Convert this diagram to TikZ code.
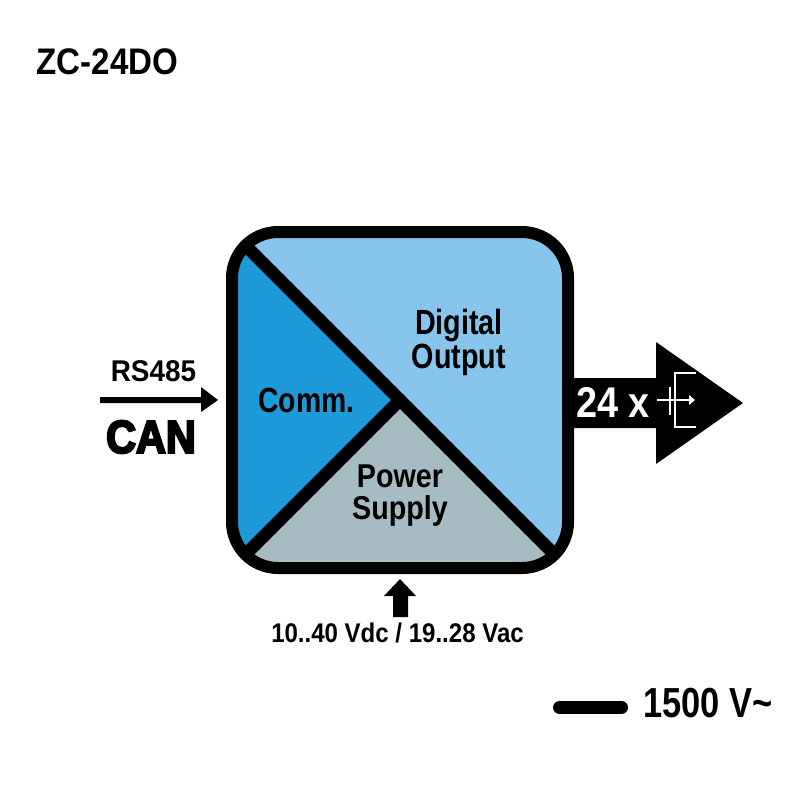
\documentclass[tikz,border=0pt]{standalone}
\usepackage{fontspec}
\setmainfont{Liberation Sans}
\newfontfamily\heavyfont[FakeBold=5]{Liberation Sans Bold}
\usetikzlibrary{calc}
\definecolor{lightb}{HTML}{88C5EC}
\definecolor{commb}{HTML}{1E9AD8}
\definecolor{psgrey}{HTML}{A7BBC2}
\newcommand{\narrow}[2]{\scalebox{#1}[1]{#2}}
\tikzset{
  lbl/.style={inner sep=0pt,font=\bfseries,align=center,text=black},
  sep/.style={draw=black,line width=12.5pt},
  solidarrow/.style={fill=black,draw=none},
}
\begin{document}
\begin{tikzpicture}[x=1pt,y=-1pt]
\useasboundingbox (0,0) rectangle (800,800);
\fill[white] (0,0) rectangle (800,800);
% box
\coordinate (c) at (400,400);
\coordinate (tl) at (232,232);
\coordinate (tr) at (568,232);
\coordinate (br) at (568,568);
\coordinate (bl) at (232,568);
\begin{scope}
\clip[rounded corners=46pt] (tl) rectangle (br);
\fill[lightb] (tl) rectangle (br);
\fill[commb] (tl) -- (c) -- (bl) -- cycle;
\fill[psgrey] (bl) -- (c) -- (br) -- cycle;
\draw[sep] (tl) -- (br);
\draw[sep] (bl) -- (c);
\end{scope}
\draw[black,line width=12pt,rounded corners=46pt] (tl) rectangle (br);
% right arrow
\fill[solidarrow] (574,378) -- (656,378) -- (656,342) -- (743,403) -- (656,464) -- (656,428) -- (574,428) -- cycle;
\node[lbl,text=white,font=\bfseries\fontsize{43}{44}\selectfont] (n24) at (613,402) {\narrow{0.88}{24 x}};
\coordinate (g1) at (657,400);
\coordinate (g2) at (690,400);
\draw[white,line width=1.2pt] (g1) -- (g2);
\draw[white,line width=1.2pt] (670,387) -- (670,415);
\draw[white,line width=1.4pt] (696,373) -- (675,373) -- (675,427) -- (696,427);
\fill[white] (689,395) -- (695,400) -- (689,405) -- cycle;
% left arrow
\fill[solidarrow] (100,397) -- (201,397) -- (201,387) -- (218,400) -- (201,412) -- (201,403) -- (100,403) -- cycle;
\node[lbl,font=\bfseries\fontsize{30}{32}\selectfont] (rs) at (153.5,371) {\narrow{0.93}{RS485}};
\node[lbl,font=\heavyfont\fontsize{46}{46}\selectfont] (can) at (151,437) {\narrow{0.9}{CAN}};
% bottom arrow
\fill[solidarrow] (400,579) -- (416,596) -- (408,596) -- (408,617) -- (393,617) -- (393,596) -- (384,596) -- cycle;
\node[lbl,font=\bfseries\fontsize{27}{29}\selectfont] (sup) at (397.5,633) {\narrow{0.89}{10..40 Vdc / 19..28 Vac}};
% labels
\node[lbl,font=\bfseries\fontsize{35}{34}\selectfont] (dig) at (459,342) {\narrow{0.82}{Digital}\\\narrow{0.82}{Output}};
\node[lbl,font=\bfseries\fontsize{35}{34}\selectfont] (comm) at (306.5,400) {\narrow{0.81}{Comm.}};
\node[lbl,font=\bfseries\fontsize{33}{32}\selectfont] (ps) at (400,496) {\narrow{0.87}{Power}\\\narrow{0.87}{Supply}};
\node[lbl,font=\bfseries\fontsize{37}{40}\selectfont] (title) at (107.5,62) {\narrow{0.895}{ZC-24DO}};
% isolation
\coordinate (i1) at (559.5,707.5);
\coordinate (i2) at (621.5,707.5);
\draw[black,line width=13pt,line cap=round] (i1) -- (i2);
\node[lbl,font=\bfseries\fontsize{42}{44}\selectfont] (iso) at (708,703) {\narrow{0.82}{1500 V\textasciitilde}};
\end{tikzpicture}
\end{document}
